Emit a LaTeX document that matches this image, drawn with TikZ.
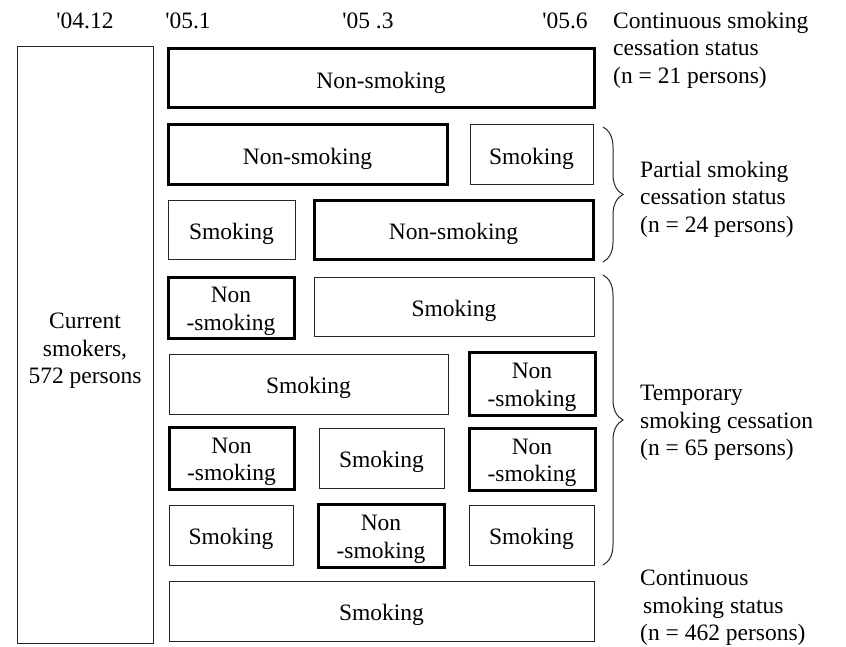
\documentclass[tikz,border=0pt]{standalone}
\usepackage{fontspec}
\setmainfont{Liberation Serif}[Ligatures=TeXOff]
\usetikzlibrary{decorations.pathreplacing}
\tikzset{
  thinbox/.style={draw=black!85, line width=1pt, rectangle, inner sep=0pt},
  thickbox/.style={draw=black, line width=3pt, rectangle, inner sep=0pt},
  boxtext/.style={inner sep=0pt, align=center, yshift=-4pt},
  lbl/.style={inner sep=0pt, align=left, anchor=west, yshift=-3pt},
  datelbl/.style={inner sep=0pt},
  bracestyle/.style={decorate, decoration={brace, amplitude=20pt}, line width=1pt, draw=black!85}
}
% \bx{name}{style}{x1}{y1}{x2}{y2}{text}
\newcommand{\bx}[7]{%
  \pgfmathsetmacro{\cxx}{(#3+#5)/2}%
  \pgfmathsetmacro{\cyy}{(#4+#6)/2}%
  \pgfmathsetmacro{\www}{#5-#3}%
  \pgfmathsetmacro{\hhh}{#6-#4}%
  \node[#2, minimum width=\www pt, minimum height=\hhh pt] (#1) at (\cxx,\cyy) {};%
  \node[boxtext] (#1t) at (#1.center) {#7};%
}
\begin{document}
\begin{tikzpicture}[x=1pt,y=-1pt,font=\fontsize{23.5}{27.5}\selectfont]
\useasboundingbox (0,0) rectangle (846,647);
% date labels
\node[datelbl] (d0) at (85,21) {\textquotesingle04.12};
\node[datelbl] (d1) at (188,21) {\textquotesingle05.1};
\node[datelbl] (d2) at (368,21) {\textquotesingle05 .3};
\node[datelbl] (d3) at (565,21) {\textquotesingle05.6};
% left box
\node[thinbox, minimum width=136pt, minimum height=596pt] (cur) at (85,345) {};
\node[boxtext, yshift=-2pt] (curt) at (cur.center) {Current\\smokers,\\572 persons};
% rows
\bx{r1}{thickbox}{168}{49}{594}{108}{Non-smoking}
\bx{r2a}{thickbox}{168}{125}{447}{185}{Non-smoking}
\bx{r2b}{thinbox}{470}{125}{593}{185}{Smoking}
\bx{r3a}{thinbox}{168}{201}{295}{259}{Smoking}
\bx{r3b}{thickbox}{314}{201}{593}{259}{Non-smoking}
\bx{r4a}{thickbox}{168}{277}{294}{338}{Non\\-smoking}
\bx{r4b}{thinbox}{314}{277}{594}{336}{Smoking}
\bx{r5a}{thinbox}{169}{354}{448}{414}{Smoking}
\bx{r5b}{thickbox}{469}{352}{595}{415}{Non\\-smoking}
\bx{r6a}{thickbox}{169}{427}{294}{489}{Non\\-smoking}
\bx{r6b}{thinbox}{319}{428}{444}{488}{Smoking}
\bx{r6c}{thickbox}{469}{428}{595}{490}{Non\\-smoking}
\bx{r7a}{thinbox}{169}{505}{293}{565}{Smoking}
\bx{r7b}{thickbox}{318}{504}{444}{567}{Non\\-smoking}
\bx{r7c}{thinbox}{469}{505}{594}{565}{Smoking}
\bx{r8}{thinbox}{169}{581}{594}{641}{Smoking}
% braces
\coordinate (b1t) at (603,127);
\coordinate (b1b) at (603,262);
\coordinate (b2t) at (603,275);
\coordinate (b2b) at (603,565);
\draw[bracestyle] (b1t) -- (b1b);
\draw[bracestyle] (b2t) -- (b2b);
% right labels
\node[lbl] (l1) at (613,47) {Continuous smoking\\cessation status\\(n = 21 persons)};
\node[lbl] (l2) at (640,196) {Partial smoking\\cessation status\\(n = 24 persons)};
\node[lbl] (l3) at (640,420) {Temporary\\smoking cessation\\(n = 65 persons)};
\node[lbl] (l4) at (640,605) {Continuous\\\hspace{3pt}smoking status\\(n = 462 persons)};
\end{tikzpicture}
\end{document}
